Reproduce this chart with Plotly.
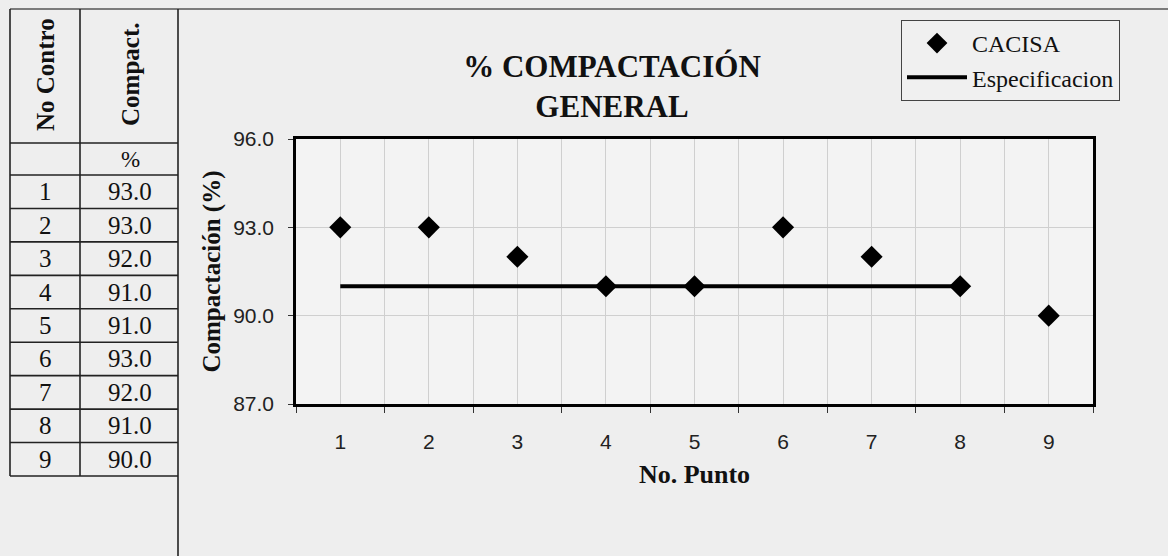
import plotly.graph_objs as go

puntos = [1, 2, 3, 4, 5, 6, 7, 8, 9]
compactacion = [93.0, 93.0, 92.0, 91.0, 91.0, 93.0, 92.0, 91.0, 90.0]
puntos_espec = [1, 2, 3, 4, 5, 6, 7, 8]
especificacion = [91.0, 91.0, 91.0, 91.0, 91.0, 91.0, 91.0, 91.0]
y_ticks = [87.0, 90.0, 93.0, 96.0]
tabla_cols = ["No Contro", "Compact."]
tabla_unidad = "%"

W, H = 1168, 556
L, R, T, B = 296, 1093, 139, 404
serif = "Liberation Serif, Times New Roman, serif"
sans = "Liberation Sans, Arial, sans-serif"


def px(x):
    return (x - L) / (R - L)


def py(y):
    return (B - y) / (B - T)


fig = go.Figure()
fig.add_trace(go.Scatter(x=puntos, y=compactacion, mode="markers", name="CACISA",
                         marker=dict(symbol="diamond", size=17, color="black")))
fig.add_trace(go.Scatter(x=puntos_espec, y=especificacion, mode="lines", name="Especificacion",
                         line=dict(color="black", width=4)))

bounds = [p - 0.5 for p in puntos] + [puntos[-1] + 0.5]

# table lines + page frame lines
line = dict(color="#222", width=1.6)
shapes = [dict(type="line", xref="paper", yref="paper", x0=px(10), x1=px(1168), y0=py(9), y1=py(9),
               line=dict(color="#555", width=1.4)),
          dict(type="line", xref="paper", yref="paper", x0=px(178), x1=px(178), y0=py(9), y1=py(556), line=line),
          dict(type="line", xref="paper", yref="paper", x0=px(10), x1=px(10), y0=py(9), y1=py(476), line=line),
          dict(type="line", xref="paper", yref="paper", x0=px(80), x1=px(80), y0=py(9), y1=py(476), line=line)]
row_h = (476 - 175) / len(puntos)
hlines = [143, 175] + [175 + row_h * (i + 1) for i in range(len(puntos))]
for yy in hlines:
    shapes.append(dict(type="line", xref="paper", yref="paper", x0=px(10), x1=px(178), y0=py(yy), y1=py(yy), line=line))

ann = []
cell = dict(xref="paper", yref="paper", xanchor="center", yanchor="middle", showarrow=False)
for cx, txt in zip([45, 130], tabla_cols):
    ann.append(dict(x=px(cx), y=py(75), text="<b>%s</b>" % txt, textangle=-90,
                    font=dict(family=serif, size=25, color="#111"), **cell))
ann.append(dict(x=px(130), y=py(159), text=tabla_unidad, font=dict(family=serif, size=23, color="#111"), **cell))
for i, (p, v) in enumerate(zip(puntos, compactacion)):
    yc = py(175 + row_h * (i + 0.5))
    ann.append(dict(x=px(45), y=yc, text=str(p), font=dict(family=serif, size=25, color="#111"), **cell))
    ann.append(dict(x=px(130), y=yc, text="%.1f" % v, font=dict(family=serif, size=25, color="#111"), **cell))

fig.update_layout(
    width=W, height=H,
    margin=dict(l=L, r=W - R, t=T, b=H - B, pad=0),
    paper_bgcolor="#eeeeee", plot_bgcolor="#f3f3f3",
    title=dict(text="<b>% COMPACTACIÓN<br>GENERAL</b>", xref="container", yref="container",
               x=612 / W, y=1 - 77 / H, xanchor="center", yanchor="middle",
               font=dict(family=serif, size=31, color="#111")),
    xaxis=dict(range=[bounds[0], bounds[-1]], tickvals=puntos, ticks="", showgrid=True, gridcolor="#cfcfcf",
               gridwidth=1, zeroline=False, showline=True, mirror=True, linecolor="black", linewidth=2.5,
               ticklabelstandoff=17, tickfont=dict(family=sans, size=21, color="#222"),
               minor=dict(tickvals=bounds, ticks="outside", ticklen=6, tickcolor="#333", showgrid=True,
                          gridcolor="#cfcfcf", gridwidth=1),
               title=dict(text="<b>No. Punto</b>", standoff=13, font=dict(family=serif, size=26, color="#111"))),
    yaxis=dict(range=[y_ticks[0], y_ticks[-1]], tickvals=y_ticks, tickformat=".1f", ticks="outside", ticklen=5,
               tickcolor="#333", showgrid=True, gridcolor="#cfcfcf", zeroline=False, showline=True, mirror=True,
               linecolor="black", linewidth=2.5, ticklabelstandoff=10,
               tickfont=dict(family=sans, size=21, color="#222"),
               title=dict(text="<b>Compactación (%)</b>", standoff=6, font=dict(family=serif, size=25, color="#111"))),
    legend=dict(x=px(1120), y=py(20), xanchor="right", yanchor="top", bgcolor="#f0f0f0", bordercolor="#444",
                borderwidth=1, font=dict(family=serif, size=24, color="#111"), tracegroupgap=0, itemwidth=60),
    shapes=shapes, annotations=ann, showlegend=True,
)

fig.write_html("out.html", config={"displayModeBar": False},
               post_script="document.body.style.margin='0';")
